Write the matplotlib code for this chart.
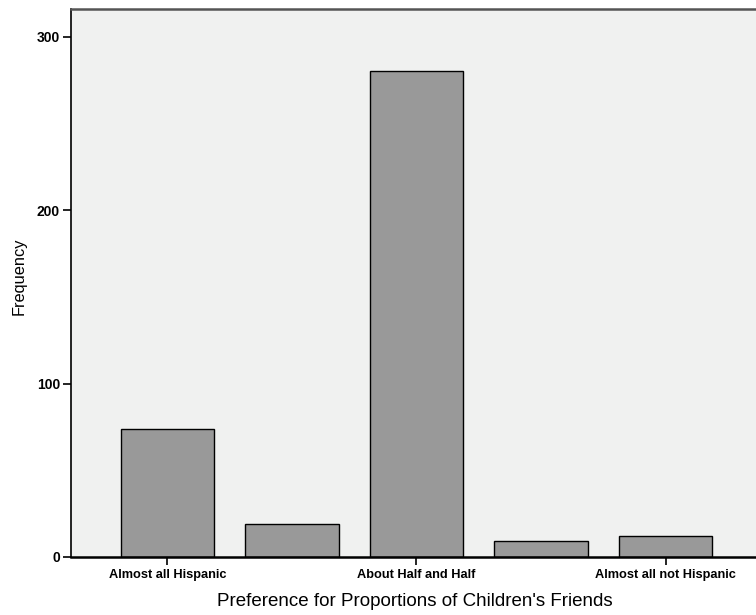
import matplotlib
matplotlib.use('Agg')
import matplotlib.pyplot as plt

plt.rcParams['font.family'] = ['Liberation Sans', 'DejaVu Sans']

categories = ['Almost all Hispanic', '', 'About Half and Half', '', 'Almost all not Hispanic']
counts = [74, 19, 280, 9, 12]
yticks = [0, 100, 200, 300]

fig = plt.figure(figsize=(7.56, 6.15), dpi=100)
ax = fig.add_axes([71 / 756, 58 / 615, 691 / 756, 548 / 615])
ax.set_facecolor('#f0f1f0')

xs = list(range(len(counts)))
ax.bar(xs, counts, width=0.75, color='#999999', edgecolor='black', linewidth=1.0, zorder=2)

ax.set_xlim(-0.775, len(counts) - 0.225)
ax.set_ylim(0, 316)

# only every other category gets a tick + label
ax.set_xticks([0, 2, 4])
ax.set_xticklabels([categories[i] for i in [0, 2, 4]], fontsize=9.2, fontweight='bold')
ax.set_yticks(yticks)
ax.set_yticklabels([str(v) for v in yticks], fontsize=10, fontweight='bold')
ax.tick_params(axis='both', direction='out', length=6, width=1.2, color='black')
ax.tick_params(axis='x', pad=2.5)
ax.tick_params(axis='y', pad=2)

ax.spines['right'].set_visible(False)
ax.spines['top'].set_color('#555555')
ax.spines['top'].set_linewidth(1.8)
ax.spines['left'].set_linewidth(1.2)
ax.spines['bottom'].set_linewidth(1.8)

ax.set_xlabel("Preference for Proportions of Children's Friends", fontsize=13.5)
ax.xaxis.set_label_coords((415 - 71) / 691, -36 / 548)
ax.set_ylabel('Frequency', fontsize=11.8)
ax.yaxis.set_label_coords(-44 / 691, (557 - 276) / 548)

fig.savefig('out.png', dpi=100)
